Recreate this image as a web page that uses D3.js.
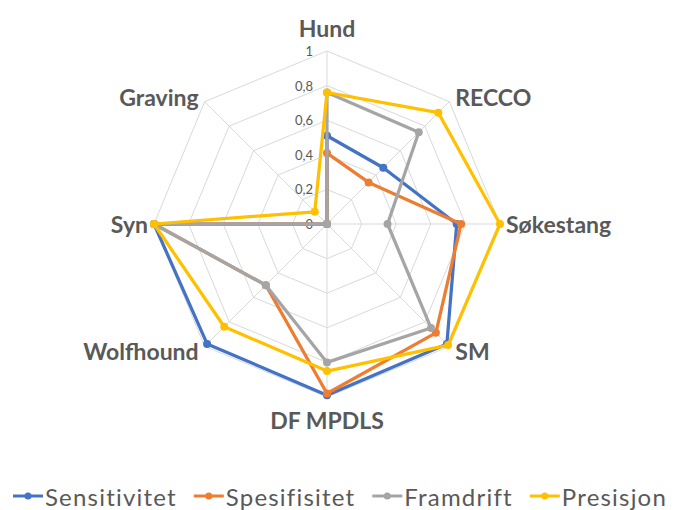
<html>
<head>
    <meta charset="utf-8">
    <script src="https://d3js.org/d3.v7.min.js"></script>
    <style>
        body { margin: 0; background: white; }
        text { font-family: Lato, "Open Sans", sans-serif; fill: #595959; }
        .catlabel { font-weight: bold; font-size: 23px; }
        .ticklabel { font-size: 13px; }
        .legendtext { font-size: 24px; letter-spacing: 1.2px; }
    </style>
</head>
<body>
    <svg id="plot" width="680" height="510"></svg>
    <script>
        const categories = ["Hund", "RECCO", "Søkestang", "SM", "DF MPDLS", "Wolfhound", "Syn", "Graving"];
        const seriesNames = ["Sensitivitet", "Spesifisitet", "Framdrift", "Presisjon"];
        const sensitivitet = [0.51, 0.46, 0.75, 0.98, 0.99, 0.98, 1, 0];
        const spesifisitet = [0.41, 0.34, 0.775, 0.89, 0.98, 0.5, 1, 0];
        const framdrift = [0.76, 0.75, 0.35, 0.85, 0.80, 0.5, 1, 0];
        const presisjon = [0.76, 0.91, 1.0, 0.99, 0.85, 0.84, 1, 0.1];
        const tickValues = [0, 0.2, 0.4, 0.6, 0.8, 1];
        const tickLabels = ["0", "0,2", "0,4", "0,6", "0,8", "1"];

        const colors = ["#4472C4", "#ED7D31", "#A5A5A5", "#FFC000"];
        const allSeries = [sensitivitet, spesifisitet, framdrift, presisjon];

        const svg = d3.select("#plot");
        const cx = 327, cy = 224, radius = 173;

        const rScale = d3.scaleLinear().domain([0, 1]).range([0, radius]);
        const angleScale = d3.scaleLinear().domain([0, categories.length]).range([0, 2 * Math.PI]);

        const px = (i, v) => cx + Math.sin(angleScale(i)) * rScale(v);
        const py = (i, v) => cy - Math.cos(angleScale(i)) * rScale(v);

        const grid = svg.append("g").attr("class", "grid");

        // octagon rings
        tickValues.filter(t => t > 0).forEach(t => {
            grid.append("polygon")
                .attr("points", categories.map((c, i) => px(i, t) + "," + py(i, t)).join(" "))
                .attr("fill", "none")
                .attr("stroke", "#d9d9d9")
                .attr("stroke-width", 1);
        });

        // spokes
        grid.selectAll("line.spoke").data(categories)
            .join("line")
            .attr("class", "spoke")
            .attr("x1", cx).attr("y1", cy)
            .attr("x2", (d, i) => px(i, 1))
            .attr("y2", (d, i) => py(i, 1))
            .attr("stroke", "#d9d9d9")
            .attr("stroke-width", 1);

        // tick labels along the top axis
        svg.selectAll("text.ticklabel").data(tickValues)
            .join("text")
            .attr("class", "ticklabel")
            .attr("x", cx - 14)
            .attr("y", d => cy - rScale(d))
            .attr("text-anchor", "end")
            .attr("dominant-baseline", "central")
            .text((d, i) => tickLabels[i]);

        // category labels
        svg.selectAll("text.catlabel").data(categories)
            .join("text")
            .attr("class", "catlabel")
            .attr("x", (d, i) => {
                const s = Math.sin(angleScale(i));
                return px(i, 1) + (Math.abs(s) < 0.1 ? 0 : Math.sign(s) * 6);
            })
            .attr("y", (d, i) => {
                const c = Math.cos(angleScale(i));
                const k = Math.abs(c) > 0.9 ? 23 : 7;
                return py(i, 1) - c * k;
            })
            .attr("text-anchor", (d, i) => {
                const s = Math.sin(angleScale(i));
                return Math.abs(s) < 0.1 ? "middle" : (s > 0 ? "start" : "end");
            })
            .attr("dominant-baseline", "central")
            .text(d => d);

        // series
        const line = d3.line().x(d => d[0]).y(d => d[1]).curve(d3.curveLinearClosed);
        const seriesG = svg.append("g").attr("class", "series");
        allSeries.forEach((vals, s) => {
            const pts = vals.map((v, i) => [px(i, v), py(i, v)]);
            seriesG.append("path")
                .attr("d", line(pts))
                .attr("fill", "none")
                .attr("stroke", colors[s])
                .attr("stroke-width", 3.25)
                .attr("stroke-linejoin", "round");
            seriesG.selectAll(null).data(pts)
                .join("circle")
                .attr("cx", d => d[0])
                .attr("cy", d => d[1])
                .attr("r", 4)
                .attr("fill", colors[s]);
        });

        // legend
        const legend = svg.append("g").attr("class", "legend");
        let lx = 0;
        const ly = 496;
        const gap = 17;
        seriesNames.forEach((name, s) => {
            const item = legend.append("g").attr("transform", `translate(${lx},0)`);
            item.append("line")
                .attr("x1", 0).attr("x2", 30)
                .attr("y1", ly).attr("y2", ly)
                .attr("stroke", colors[s]).attr("stroke-width", 3);
            item.append("circle").attr("cx", 15).attr("cy", ly).attr("r", 3.5).attr("fill", colors[s]);
            const t = item.append("text")
                .attr("class", "legendtext")
                .attr("x", 32)
                .attr("y", ly)
                .attr("dominant-baseline", "central")
                .text(name);
            lx += 32 + t.node().getComputedTextLength() + gap;
        });
        const totalW = lx - gap;
        legend.attr("transform", `translate(${(680 - totalW) / 2},0)`);
    </script>
</body>
</html>
